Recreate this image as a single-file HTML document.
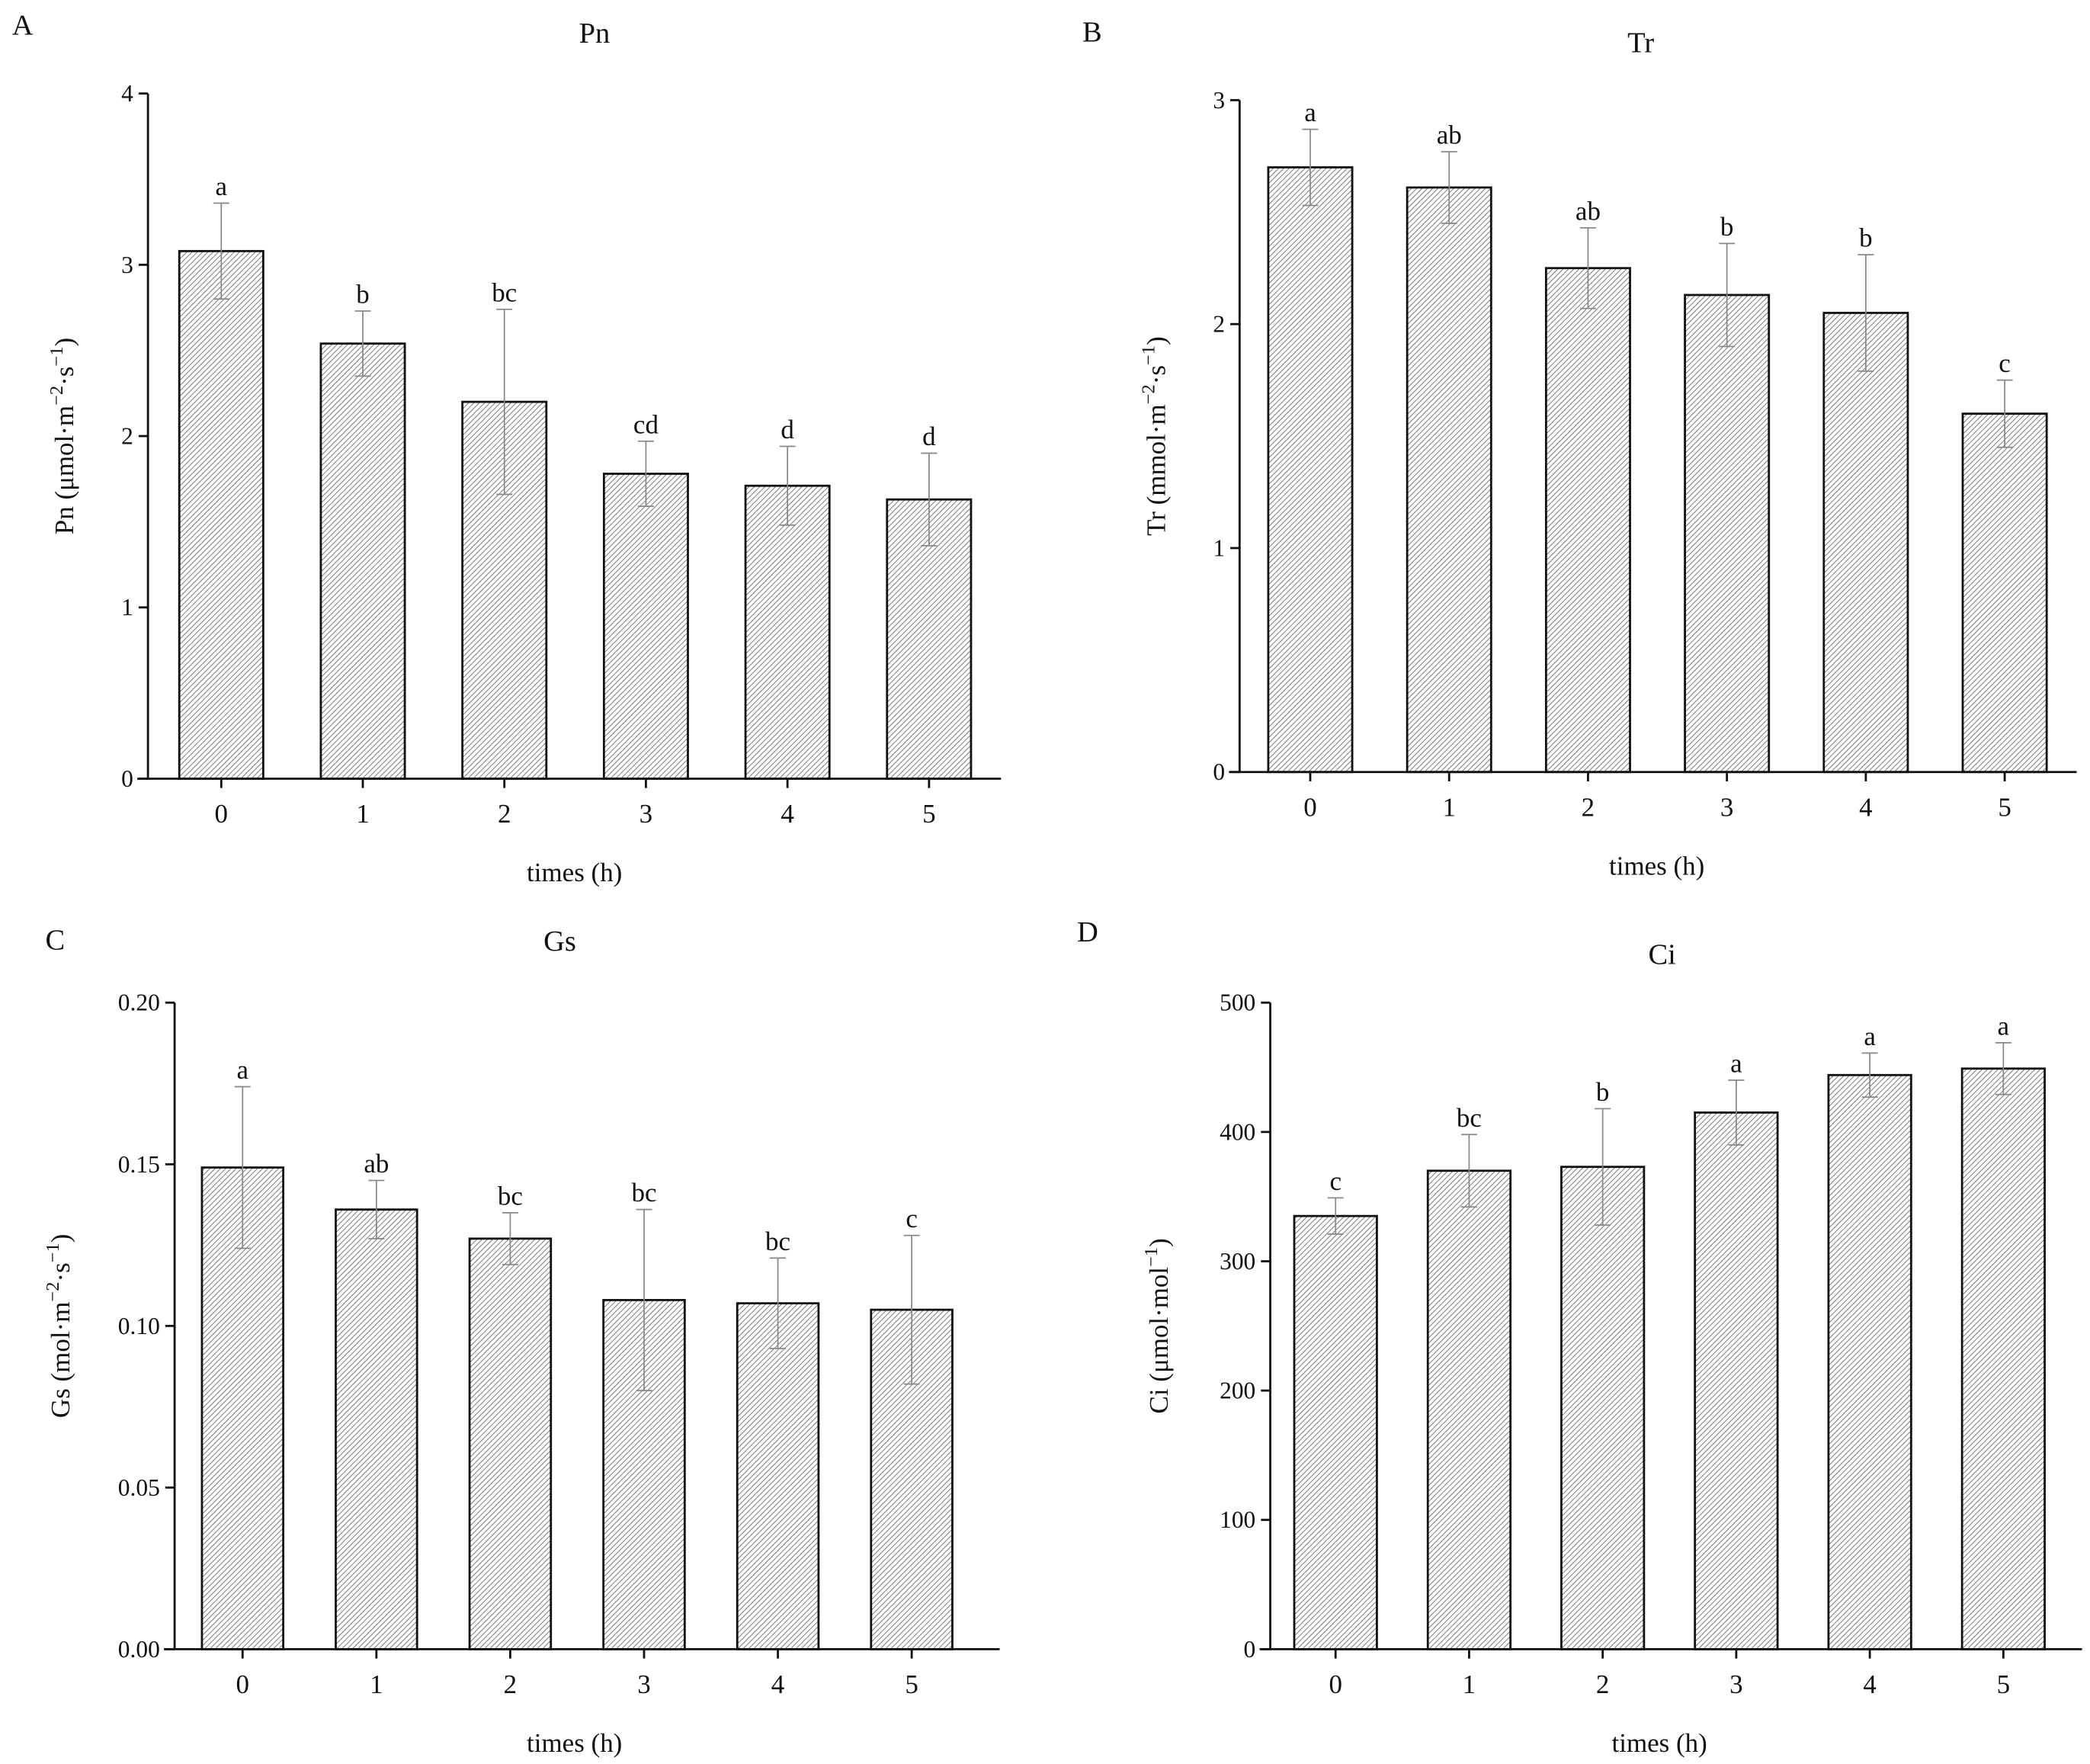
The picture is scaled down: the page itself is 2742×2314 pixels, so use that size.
<!DOCTYPE html>
<html><head><meta charset="utf-8">
<style>
html,body{margin:0;padding:0;background:#fff;}
svg{display:block;}
text{font-family:"Liberation Serif",serif;fill:#111;}
</style></head>
<body>
<svg id="fig" width="2742" height="2314" viewBox="0 0 1568 1323" xmlns="http://www.w3.org/2000/svg">
<defs>
<pattern id="hatch" patternUnits="userSpaceOnUse" width="2.8" height="2.8" patternTransform="rotate(45)">
<rect width="2.8" height="2.8" fill="#fff"/>
<line x1="0" y1="0" x2="0" y2="2.8" stroke="#777" stroke-width="1.1"/>
</pattern>
</defs>
</svg>
<script>
const categories = ["0","1","2","3","4","5"];
const pnValues = [3.08, 2.54, 2.20, 1.78, 1.71, 1.63];
const pnErrors = [0.28, 0.19, 0.54, 0.19, 0.23, 0.27];
const pnLetters = ["a","b","bc","cd","d","d"];
const pnTicks = ["0","1","2","3","4"];
const trValues = [2.70, 2.61, 2.25, 2.13, 2.05, 1.60];
const trErrors = [0.17, 0.16, 0.18, 0.23, 0.26, 0.15];
const trLetters = ["a","ab","ab","b","b","c"];
const trTicks = ["0","1","2","3"];
const gsValues = [0.149, 0.136, 0.127, 0.108, 0.107, 0.105];
const gsErrors = [0.025, 0.009, 0.008, 0.028, 0.014, 0.023];
const gsLetters = ["a","ab","bc","bc","bc","c"];
const gsTicks = ["0.00","0.05","0.10","0.15","0.20"];
const ciValues = [335, 370, 373, 415, 444, 449];
const ciErrors = [14, 28, 45, 25, 17, 20];
const ciLetters = ["c","bc","b","a","a","a"];
const ciTicks = ["0","100","200","300","400","500"];

const svg = document.getElementById('fig');
const NS = 'http://www.w3.org/2000/svg';
function mk(tag, attrs, parent){
  const e = document.createElementNS(NS, tag);
  for (const k in attrs) e.setAttribute(k, attrs[k]);
  (parent||svg).appendChild(e);
  return e;
}
function txt(x,y,s,size,anchor,parent){
  const t = mk('text',{x:x,y:y,'font-size':size,'text-anchor':anchor||'middle'},parent);
  t.textContent = s;
  return t;
}

function panel(cfg){
  const g = mk('g',{});
  
  
  const ymax = parseFloat(cfg.ticks[cfg.ticks.length-1]);
  const yS = v => cfg.bottom - (v/ymax)*(cfg.bottom-cfg.top);
  const xS = i => cfg.x0 + i*cfg.step;
  // bars
  cfg.values.forEach((v,i)=>{
    const r = mk('rect',{x:xS(i)-cfg.bw/2,y:yS(v),width:cfg.bw,height:cfg.bottom-yS(v),fill:'url(#hatch)',stroke:'#111','stroke-width':1.6},g);
    
    
  });
  // error bars
  cfg.values.forEach((v,i)=>{
    const e = cfg.errors[i], cx = xS(i);
    const eg = mk('g',{stroke:'#888','stroke-width':1},g);
    
    
    mk('line',{x1:cx,x2:cx,y1:yS(v+e),y2:yS(v-e)},eg);
    mk('line',{x1:cx-6,x2:cx+6,y1:yS(v+e),y2:yS(v+e)},eg);
    mk('line',{x1:cx-6,x2:cx+6,y1:yS(v-e),y2:yS(v-e)},eg);
    const t = txt(cx, yS(v+e)-6, cfg.letters[i], 20,'middle',g);
    
    
  });
  // axes
  const ax = mk('g',{stroke:'#111','stroke-width':1.6},g);
  
  
  mk('line',{x1:cfg.ax,x2:cfg.ax,y1:cfg.top,y2:cfg.bottom},ax);
  mk('line',{x1:cfg.ax-8,x2:cfg.xend,y1:cfg.bottom,y2:cfg.bottom},ax);
  cfg.ticks.forEach(tk=>{
    const y = yS(parseFloat(tk));
    mk('line',{x1:cfg.ax-7,x2:cfg.ax,y1:y,y2:y},ax);
    const t = txt(cfg.ax-11, y+6, tk, 18,'end',g);
    
    
  });
  categories.forEach((c,i)=>{
    mk('line',{x1:xS(i),x2:xS(i),y1:cfg.bottom,y2:cfg.bottom+7},ax);
    const t = txt(xS(i), cfg.bottom+33, c, 20,'middle',g);
    
    
  });
  const tt = txt(cfg.titleX, cfg.titleY, cfg.title, 22,'middle',g);
  
  
  const pl = txt(cfg.letX, cfg.letY, cfg.letter, 22,'start',g);
  
  
  const xt = txt(cfg.xtX, cfg.bottom+77, 'times (h)', 20,'middle',g);
  
  
  const yt = mk('text',{x:0,y:0,'font-size':20,'text-anchor':'middle',transform:'translate('+cfg.ytX+','+((cfg.top+cfg.bottom)/2)+') rotate(-90)'},g);
  yt.innerHTML = cfg.ylabel;
  
  
}

panel({name:'panel-a-pn',key:'pn',values:pnValues,errors:pnErrors,letters:pnLetters,ticks:pnTicks,
  ax:111,top:70,bottom:584,xend:751,x0:166,step:106.2,bw:63,title:'Pn',titleX:446,titleY:32,letter:'A',letX:9,letY:26,
  xtX:431,ytX:55,ylabel:'Pn (μmol·m<tspan dy="-8" font-size="14">−2</tspan><tspan dy="8">·s</tspan><tspan dy="-8" font-size="14">−1</tspan><tspan dy="8">)</tspan>'});
panel({name:'panel-b-tr',key:'tr',values:trValues,errors:trErrors,letters:trLetters,ticks:trTicks,
  ax:930,top:75,bottom:579,xend:1558,x0:983,step:104.2,bw:63,title:'Tr',titleX:1231,titleY:39,letter:'B',letX:812,letY:31,
  xtX:1243,ytX:874,ylabel:'Tr (mmol·m<tspan dy="-8" font-size="14">−2</tspan><tspan dy="8">·s</tspan><tspan dy="-8" font-size="14">−1</tspan><tspan dy="8">)</tspan>'});
panel({name:'panel-c-gs',key:'gs',values:gsValues,errors:gsErrors,letters:gsLetters,ticks:gsTicks,
  ax:131,top:752,bottom:1237,xend:750,x0:182,step:100.4,bw:61,title:'Gs',titleX:420,titleY:713,letter:'C',letX:34,letY:712,
  xtX:431,ytX:52,ylabel:'Gs (mol·m<tspan dy="-8" font-size="14">−2</tspan><tspan dy="8">·s</tspan><tspan dy="-8" font-size="14">−1</tspan><tspan dy="8">)</tspan>'});
panel({name:'panel-d-ci',key:'ci',values:ciValues,errors:ciErrors,letters:ciLetters,ticks:ciTicks,
  ax:953,top:752,bottom:1237,xend:1562,x0:1002,step:100.2,bw:62,title:'Ci',titleX:1247,titleY:723,letter:'D',letX:808,letY:706,
  xtX:1245,ytX:876,ylabel:'Ci (μmol·mol<tspan dy="-8" font-size="14">−1</tspan><tspan dy="8">)</tspan>'});
</script>
</body></html>
